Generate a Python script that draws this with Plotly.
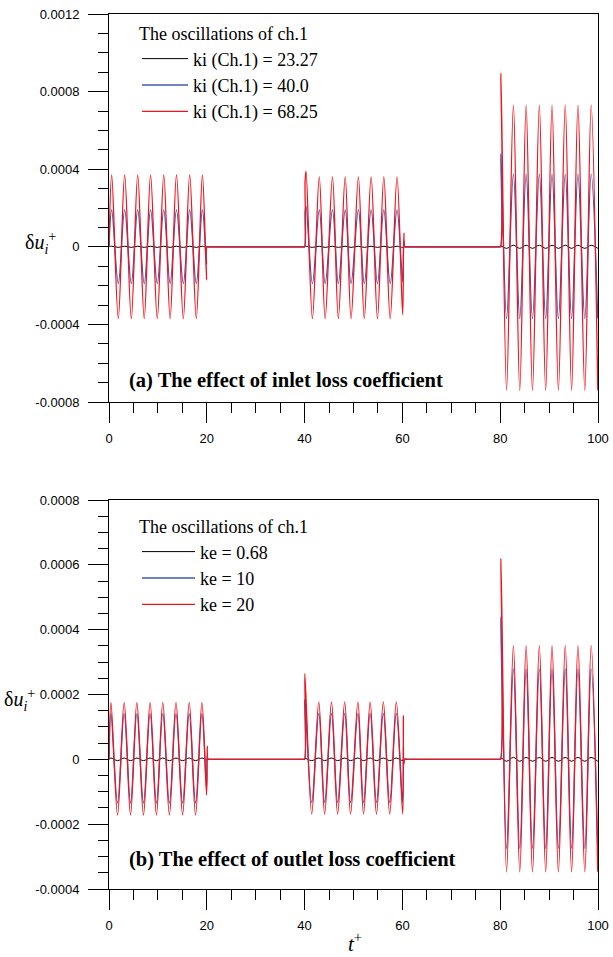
import plotly.graph_objects as go

# ---------------- data ----------------
# Panel (a): time points (peaks / troughs / segment edges)
t_a = [
    0.0, 0.55, 1.9, 3.2, 4.56, 5.87, 7.2, 8.5, 9.87, 11.2, 12.5, 13.8, 15.2, 16.5, 17.85, 19.1, 19.95, 20.05, 20.5,
    39.8, 40.0, 40.1, 40.3, 41.6, 43.0, 44.2, 45.7, 46.9, 48.3, 49.5, 51.0, 52.2, 53.6, 54.9, 56.2, 57.5, 58.9, 60.05, 60.3, 60.5, 61.0,
    79.8, 80.05, 80.15, 81.3, 82.7, 84.0, 85.3, 86.6, 88.0, 89.3, 90.6, 91.9, 93.3, 94.6, 95.9, 97.3, 98.6, 99.95,
]
red_a = [
    0.0,
    0.00037, -0.00037, 0.00037, -0.00037, 0.00037, -0.00037, 0.00037, -0.00037,
    0.00037, -0.00037, 0.00037, -0.00037, 0.00037, -0.00037, 0.00037,
    -0.00017, 0.0, 0.0,
    0.0, 0.0, 0.00034, 0.00039,
    -0.00037, 0.00036, -0.00037, 0.00036, -0.00037, 0.00036, -0.00037, 0.00036,
    -0.00037, 0.00036, -0.00037, 0.00036, -0.00037, 0.00036,
    -0.00035, 0.00007, 0.0, 0.0,
    0.0, 0.0, 0.000895,
    -0.00074, 0.00073, -0.00074, 0.00073, -0.00074, 0.00073, -0.00074, 0.00073,
    -0.00074, 0.00073, -0.00074, 0.00073, -0.00074, 0.00073, -0.00074,
]
blue_a = [
    0.0,
    0.00019, -0.00019, 0.00019, -0.00019, 0.00019, -0.00019, 0.00019, -0.00019,
    0.00019, -0.00019, 0.00019, -0.00019, 0.00019, -0.00019, 0.00019,
    -0.00009, 0.0, 0.0,
    0.0, 0.0, 0.00018, 0.00021,
    -0.00019, 0.00019, -0.00019, 0.00019, -0.00019, 0.00019, -0.00019, 0.00019,
    -0.00019, 0.00019, -0.00019, 0.00019, -0.00019, 0.00019,
    -0.00018, 0.00003, 0.0, 0.0,
    0.0, 0.0, 0.00048,
    -0.00037, 0.000375, -0.00037, 0.000375, -0.00037, 0.000375, -0.00037, 0.000375,
    -0.00037, 0.000375, -0.00037, 0.000375, -0.00037, 0.000375, -0.00037,
]
black_a = [
    0.0,
    0.000003, -0.000003, 0.000003, -0.000003, 0.000003, -0.000003, 0.000003, -0.000003,
    0.000003, -0.000003, 0.000003, -0.000003, 0.000003, -0.000003, 0.000003,
    -0.000002, 0.0, 0.0,
    0.0, 0.0, 0.000002, 0.000003,
    -0.000003, 0.000003, -0.000003, 0.000003, -0.000003, 0.000003, -0.000003, 0.000003,
    -0.000003, 0.000003, -0.000003, 0.000003, -0.000003, 0.000003,
    -0.000003, 0.000001, 0.0, 0.0,
    0.0, 0.0, 0.000004,
    -0.000008, 0.000008, -0.000008, 0.000008, -0.000008, 0.000008, -0.000008, 0.000008,
    -0.000008, 0.000008, -0.000008, 0.000008, -0.000008, 0.000008, -0.000008,
]

# Panel (b)
t_b = [
    0.0, 0.4, 1.75, 3.1, 4.4, 5.7, 7.05, 8.4, 9.7, 11.0, 12.35, 13.7, 15.05, 16.4, 17.7, 19.0, 19.95, 20.1, 20.25, 20.6,
    39.8, 40.0, 40.05, 41.45, 42.9, 44.1, 45.5, 46.75, 48.2, 49.4, 50.9, 52.05, 53.4, 54.7, 56.1, 57.4, 58.75, 60.06, 60.2, 60.3, 60.5, 61.0,
    79.8, 80.05, 80.15, 81.3, 82.7, 84.0, 85.3, 86.6, 88.0, 89.3, 90.6, 91.9, 93.3, 94.6, 95.9, 97.3, 98.6, 99.95,
]
red_b = [
    0.0,
    0.000176, -0.000172, 0.000176, -0.000172, 0.000176, -0.000172, 0.000176, -0.000172,
    0.000176, -0.000172, 0.000176, -0.000172, 0.000176, -0.000172, 0.000176,
    -0.00011, 0.00004, 0.0, 0.0,
    0.0, 0.0, 0.000264,
    -0.000169, 0.000177, -0.000169, 0.000177, -0.000169, 0.000177, -0.000169, 0.000177,
    -0.000169, 0.000177, -0.000169, 0.000177, -0.000169, 0.000177, -0.000169,
    0.000135, -0.000015, 0.0, 0.0,
    0.0, 0.0, 0.00062,
    -0.000347, 0.000351, -0.000347, 0.000351, -0.000347, 0.000351, -0.000347, 0.000351,
    -0.000347, 0.000351, -0.000347, 0.000351, -0.000347, 0.000351, -0.000347,
]
blue_b = [
    0.0,
    0.000141, -0.000135, 0.000141, -0.000135, 0.000141, -0.000135, 0.000141, -0.000135,
    0.000141, -0.000135, 0.000141, -0.000135, 0.000141, -0.000135, 0.000141,
    -0.00009, 0.00001, 0.0, 0.0,
    0.0, 0.0, 0.000185,
    -0.000133, 0.000142, -0.000133, 0.000142, -0.000133, 0.000142, -0.000133, 0.000142,
    -0.000133, 0.000142, -0.000133, 0.000142, -0.000133, 0.000142, -0.000133,
    0.00004, -0.000005, 0.0, 0.0,
    0.0, 0.0, 0.00044,
    -0.000275, 0.000279, -0.000275, 0.000279, -0.000275, 0.000279, -0.000275, 0.000279,
    -0.000275, 0.000279, -0.000275, 0.000279, -0.000275, 0.000279, -0.000275,
]
black_b = [
    0.0,
    0.000004, -0.000004, 0.000004, -0.000004, 0.000004, -0.000004, 0.000004, -0.000004,
    0.000004, -0.000004, 0.000004, -0.000004, 0.000004, -0.000004, 0.000004,
    -0.000002, 0.0, 0.0, 0.0,
    0.0, 0.0, 0.000003,
    -0.000004, 0.000004, -0.000004, 0.000004, -0.000004, 0.000004, -0.000004, 0.000004,
    -0.000004, 0.000004, -0.000004, 0.000004, -0.000004, 0.000004, -0.000004,
    0.000001, 0.0, 0.0, 0.0,
    0.0, 0.0, 0.000004,
    -0.000006, 0.000006, -0.000006, 0.000006, -0.000006, 0.000006, -0.000006, 0.000006,
    -0.000006, 0.000006, -0.000006, 0.000006, -0.000006, 0.000006, -0.000006,
]

names_a = ["ki (Ch.1) = 23.27", "ki (Ch.1) = 40.0", "ki (Ch.1) = 68.25"]
names_b = ["ke = 0.68", "ke = 10", "ke = 20"]
legend_title = "The oscillations of ch.1"

x_ticks = [0, 20, 40, 60, 80, 100]
x_ticktext = ["0", "20", "40", "60", "80", "100"]
ya_ticks = [-0.0008, -0.0004, 0, 0.0004, 0.0008, 0.0012]
ya_ticktext = ["-0.0008", "-0.0004", "0", "0.0004", "0.0008", "0.0012"]
yb_ticks = [-0.0004, -0.0002, 0, 0.0002, 0.0004, 0.0006, 0.0008]
yb_ticktext = ["-0.0004", "-0.0002", "0", "0.0002", "0.0004", "0.0006", "0.0008"]

for arr in (red_a, blue_a, black_a):
    assert len(arr) == len(t_a), (len(arr), len(t_a))
for arr in (red_b, blue_b, black_b):
    assert len(arr) == len(t_b), (len(arr), len(t_b))

# ---------------- styling ----------------
W, H = 613, 957
SERIF = "Liberation Serif, Times New Roman, serif"
SANS = "Liberation Sans, Arial, sans-serif"
colors = ["#000000", "#4457b2", "#f0141e"]
widths = [1.0, 1.3, 1.3]

def px_x(p):
    return p / W

def px_y(p):
    return 1 - p / H

X_DOM = [px_x(109), px_x(598)]
YA_DOM = [px_y(402), px_y(14)]
YB_DOM = [px_y(889), px_y(500)]

fig = go.Figure()
for i, (nm, ys) in enumerate(zip(names_a, [black_a, blue_a, red_a])):
    fig.add_trace(go.Scatter(
        x=t_a, y=ys, mode="lines", name=nm,
        line=dict(color=colors[i], width=widths[i], shape="spline", smoothing=1.0),
        xaxis="x", yaxis="y", legend="legend", legendgroup="a%d" % i,
    ))
for i, (nm, ys) in enumerate(zip(names_b, [black_b, blue_b, red_b])):
    fig.add_trace(go.Scatter(
        x=t_b, y=ys, mode="lines", name=nm,
        line=dict(color=colors[i], width=widths[i], shape="spline", smoothing=1.0),
        xaxis="x2", yaxis="y2", legend="legend2", legendgroup="b%d" % i,
    ))

def xaxis_style(anchor):
    return dict(
        domain=X_DOM, anchor=anchor, range=[0, 100], automargin=False,
        showline=True, mirror=True, linecolor="black", linewidth=1,
        ticks="outside", ticklen=20, tickwidth=1, tickcolor="black",
        tickmode="array", tickvals=x_ticks, ticktext=x_ticktext,
        minor=dict(ticks="outside", ticklen=10, tickwidth=1, tickcolor="black",
                   tickmode="linear", tick0=0, dtick=5, showgrid=False),
        showgrid=False, zeroline=False,
        tickfont=dict(family=SANS, size=13, color="black"),
        ticklabelstandoff=4,
    )

def yaxis_style(anchor, dom, rng, vals, text, mdt):
    return dict(
        domain=dom, anchor=anchor, range=rng, automargin=False,
        showline=True, mirror=True, linecolor="black", linewidth=1,
        ticks="outside", ticklen=20, tickwidth=1, tickcolor="black",
        tickmode="array", tickvals=vals, ticktext=text,
        minor=dict(ticks="outside", ticklen=10, tickwidth=1, tickcolor="black",
                   tickmode="linear", tick0=0, dtick=mdt, showgrid=False),
        showgrid=False, zeroline=False,
        tickfont=dict(family=SANS, size=13, color="black"),
        ticklabelstandoff=6,
    )

def legend_style(xp, yp, itemw):
    return dict(
        x=px_x(xp), y=px_y(yp),
        bgcolor="rgba(0,0,0,0)", borderwidth=0,
        font=dict(family=SERIF, size=18, color="black"),
        xanchor="left", yanchor="top", itemwidth=itemw, tracegroupgap=0,
        title=dict(text=legend_title, font=dict(family=SERIF, size=18, color="black")),
    )

fig.update_layout(
    width=W, height=H,
    margin=dict(l=0, r=0, t=0, b=0, autoexpand=False),
    paper_bgcolor="white", plot_bgcolor="white",
    xaxis=xaxis_style("y"),
    yaxis=yaxis_style("x", YA_DOM, [-0.0008, 0.0012], ya_ticks, ya_ticktext, 0.0001),
    xaxis2=xaxis_style("y2"),
    yaxis2=yaxis_style("x2", YB_DOM, [-0.0004, 0.0008], yb_ticks, yb_ticktext, 0.00005),
    legend=legend_style(137, 17, 46),
    legend2=legend_style(137, 510, 53),
    showlegend=True,
)

ann_font = dict(family=SERIF, size=20.5, color="black")
fig.add_annotation(text="<b>(a) The effect of inlet loss coefficient</b>", x=px_x(127), y=px_y(381),
                   xref="paper", yref="paper", xanchor="left", yanchor="middle", showarrow=False, font=ann_font)
fig.add_annotation(text="<b>(b) The effect of outlet loss coefficient</b>", x=px_x(127), y=px_y(859),
                   xref="paper", yref="paper", xanchor="left", yanchor="middle", showarrow=False, font=ann_font)
ytitle = "δ<i>u</i><sub><i>i</i></sub><sup>+</sup>"
fig.add_annotation(text=ytitle, x=px_x(40), y=px_y(243), xref="paper", yref="paper",
                   xanchor="center", yanchor="middle",
                   showarrow=False, font=dict(family=SERIF, size=20, color="black"))
fig.add_annotation(text=ytitle, x=px_x(19), y=px_y(700), xref="paper", yref="paper",
                   xanchor="center", yanchor="middle",
                   showarrow=False, font=dict(family=SERIF, size=20, color="black"))
fig.add_annotation(text="<i>t</i><sup>+</sup>", x=px_x(355), y=px_y(942), xref="paper", yref="paper",
                   xanchor="center", yanchor="middle",
                   showarrow=False, font=dict(family=SERIF, size=21, color="black"))

fig.write_html("out.html")
